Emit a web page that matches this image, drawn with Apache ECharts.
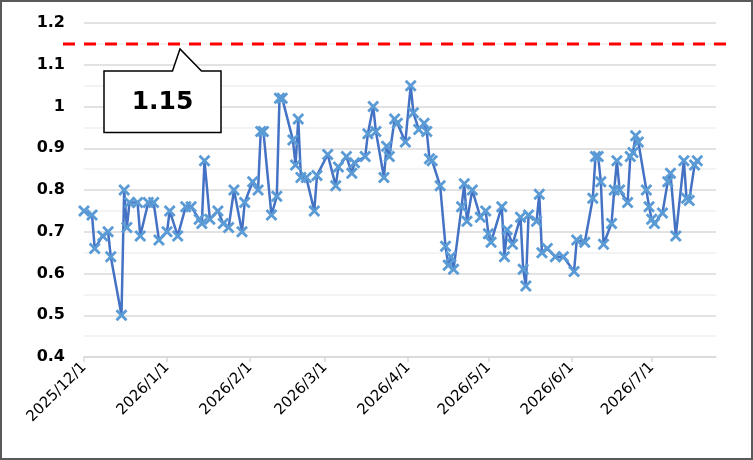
<!DOCTYPE html>
<html>
<head>
<meta charset="utf-8">
<script src="https://cdn.jsdelivr.net/npm/echarts@6/dist/echarts.min.js"></script>
<style>
  html, body { margin: 0; padding: 0; background: #fff; }
  #wrap { position: relative; width: 753px; height: 460px; }
  #chart { width: 753px; height: 460px; }
  #frame { position: absolute; left: 0; top: 0; width: 753px; height: 460px;
           box-sizing: border-box; border: 2px solid #595959; pointer-events: none; }
</style>
</head>
<body>
<div id="wrap">
  <div id="chart"></div>
  <div id="frame"></div>
</div>
<script>
// dates of each reading
const dates = [
  '2025-12-01','2025-12-04','2025-12-05','2025-12-08','2025-12-10','2025-12-11','2025-12-15','2025-12-16',
  '2025-12-17','2025-12-18','2025-12-21','2025-12-22','2025-12-25','2025-12-27','2025-12-29',
  '2026-01-01','2026-01-02','2026-01-05','2026-01-08','2026-01-10','2026-01-13','2026-01-14','2026-01-15',
  '2026-01-17','2026-01-20','2026-01-22','2026-01-24','2026-01-26','2026-01-29','2026-01-30',
  '2026-02-02','2026-02-04','2026-02-05','2026-02-06','2026-02-09','2026-02-11','2026-02-12','2026-02-13',
  '2026-02-17','2026-02-18','2026-02-19','2026-02-20','2026-02-22','2026-02-25','2026-02-26',
  '2026-03-02','2026-03-05','2026-03-06','2026-03-09','2026-03-11','2026-03-12','2026-03-16','2026-03-17',
  '2026-03-19','2026-03-20','2026-03-23','2026-03-24','2026-03-25','2026-03-27','2026-03-28','2026-03-31',
  '2026-04-02','2026-04-03','2026-04-05','2026-04-07','2026-04-08','2026-04-09','2026-04-10','2026-04-13',
  '2026-04-15','2026-04-16','2026-04-17','2026-04-18','2026-04-21','2026-04-22','2026-04-23','2026-04-25',
  '2026-04-28','2026-04-30','2026-05-01','2026-05-02','2026-05-06','2026-05-07','2026-05-08','2026-05-10',
  '2026-05-13','2026-05-14','2026-05-15','2026-05-16','2026-05-19','2026-05-20','2026-05-21','2026-05-23',
  '2026-05-26','2026-05-29','2026-06-02','2026-06-03','2026-06-06','2026-06-09','2026-06-10','2026-06-11',
  '2026-06-12','2026-06-13','2026-06-16','2026-06-17','2026-06-18','2026-06-19','2026-06-22','2026-06-23',
  '2026-06-24','2026-06-25','2026-06-26','2026-06-29','2026-06-30','2026-07-01','2026-07-02','2026-07-05',
  '2026-07-07','2026-07-08','2026-07-10','2026-07-13','2026-07-14','2026-07-15','2026-07-17','2026-07-18'
];

const values = [
  0.75, 0.74, 0.66, 0.69, 0.70, 0.64, 0.50, 0.80,
  0.71, 0.77, 0.77, 0.69, 0.77, 0.77, 0.68,
  0.70, 0.75, 0.69, 0.76, 0.76, 0.73, 0.72, 0.87,
  0.73, 0.75, 0.72, 0.71, 0.80, 0.70, 0.77,
  0.82, 0.80, 0.94, 0.94, 0.74, 0.785, 1.02, 1.02,
  0.92, 0.86, 0.97, 0.83, 0.83, 0.75, 0.835,
  0.885, 0.81, 0.855, 0.88, 0.84, 0.865, 0.88, 0.935,
  1.00, 0.94, 0.83, 0.905, 0.88, 0.97, 0.96, 0.915,
  1.05, 0.985, 0.945, 0.96, 0.94, 0.875, 0.87, 0.81,
  0.665, 0.62, 0.64, 0.61, 0.76, 0.815, 0.725, 0.80,
  0.735, 0.75, 0.695, 0.675, 0.76, 0.64, 0.705, 0.67,
  0.735, 0.61, 0.57, 0.74, 0.725, 0.79, 0.65, 0.66,
  0.64, 0.64, 0.605, 0.68, 0.675, 0.78, 0.88, 0.88,
  0.82, 0.67, 0.72, 0.80, 0.87, 0.80, 0.77, 0.88,
  0.89, 0.93, 0.915, 0.80, 0.76, 0.73, 0.72, 0.745,
  0.82, 0.84, 0.69, 0.87, 0.78, 0.775, 0.86, 0.87
];

const tickDates = ['2025-12-01','2026-01-01','2026-02-01','2026-03-01','2026-04-01','2026-05-01','2026-06-01','2026-07-01'];
const axisStart = '2025-12-01';
const axisEnd = '2026-07-25';
const thresholdValue = 1.15;
const thresholdLabel = '1.15';

function toTime(s) {
  const p = s.split('-');
  return new Date(+p[0], +p[1] - 1, +p[2]).getTime();
}

const seriesData = dates.map((d, i) => [toTime(d), values[i]]);
const tickTimes = tickDates.map(toTime);

const crossSymbol = 'path://M0,2 L2,0 L6,4 L10,0 L12,2 L8,6 L12,10 L10,12 L6,8 L2,12 L0,10 L4,6 Z';

let chart = echarts.init(document.getElementById('chart'));

chart.setOption({
  animation: false,
  backgroundColor: '#ffffff',
  grid: { left: 84, right: 37, top: 23, bottom: 103 },
  xAxis: {
    type: 'value',
    min: toTime(axisStart),
    max: toTime(axisEnd),
    scale: true,
    splitLine: { show: false },
    axisLine: { show: true, lineStyle: { color: '#d9d9d9', width: 1.5 } },
    axisTick: { show: true, customValues: tickTimes, length: 5, lineStyle: { color: '#d9d9d9', width: 1.5 } },
    axisLabel: {
      customValues: tickTimes,
      rotate: 45,
      margin: 8,
      color: '#000',
      fontFamily: 'DejaVu Sans',
      fontSize: 15,
      formatter: function (v) {
        const d = new Date(v);
        return d.getFullYear() + '/' + (d.getMonth() + 1) + '/' + d.getDate();
      }
    }
  },
  yAxis: {
    type: 'value',
    min: 0.4,
    max: 1.2,
    interval: 0.05,
    axisLine: { show: false },
    axisTick: { show: false },
    axisLabel: {
      margin: 19,
      color: '#000',
      fontFamily: 'DejaVu Sans',
      fontWeight: 'bold',
      fontSize: 16,
      formatter: function (v) {
        const r = Math.round(v * 100);
        return r % 10 === 0 ? String(r / 100) : '';
      }
    },
    // major lines at 0.1, lighter lines halfway
    splitLine: { show: true, lineStyle: { color: ['#d9d9d9', '#efefef'], width: 1.5 } }
  },
  series: [{
    type: 'line',
    data: seriesData,
    symbol: crossSymbol,
    symbolSize: 12,
    showAllSymbol: true,
    lineStyle: { color: '#4472C4', width: 2.5 },
    itemStyle: { color: '#5B9BD5' },
    z: 3
  }]
});

// threshold line and callout
let yTh = chart.convertToPixel({ yAxisIndex: 0 }, thresholdValue);

chart.setOption({
  graphic: [
    {
      type: 'line',
      shape: { x1: 63, y1: yTh, x2: 727, y2: yTh },
      style: { stroke: '#ff0000', lineWidth: 3, lineDash: [12, 9] },
      z: 10
    },
    {
      type: 'polygon',
      shape: { points: [[104, 71], [172.5, 71], [180, yTh + 5], [201.5, 71], [221, 71], [221, 132.5], [104, 132.5]] },
      style: { fill: '#fff', stroke: '#000', lineWidth: 1.5 },
      z: 11
    },
    {
      type: 'text',
      x: 162.5,
      y: 102,
      style: {
        text: thresholdLabel,
        fill: '#000',
        font: 'bold 25px "DejaVu Sans"',
        align: 'center',
        verticalAlign: 'middle'
      },
      z: 12
    }
  ]
});
</script>
</body>
</html>
